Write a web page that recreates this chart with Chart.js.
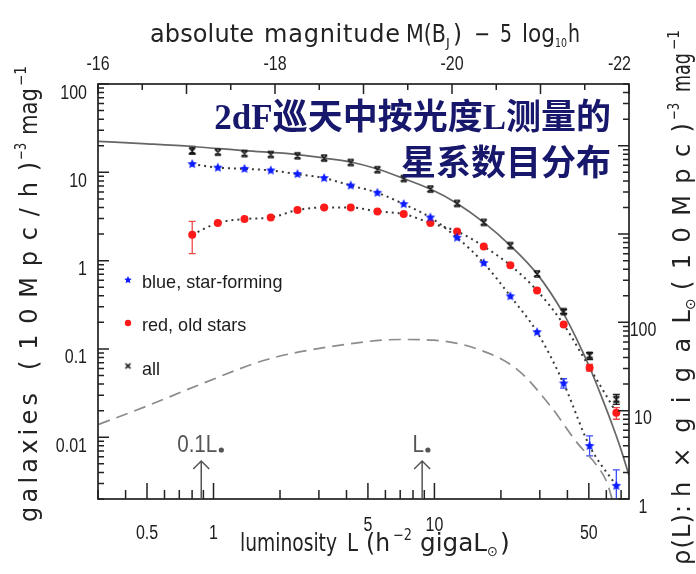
<!DOCTYPE html>
<html>
<head>
<meta charset="utf-8">
<script src="https://cdn.jsdelivr.net/npm/chart.js@4.4.1/dist/chart.umd.min.js"></script>
<style>
  html, body { margin: 0; padding: 0; background: #fff; }
  canvas { display: block; }
</style>
</head>
<body>
<canvas id="lf" width="696" height="574"></canvas>
<script>
// Luminosity bins, h^-2 gigaL_sun
const binL = [0.801, 1.046, 1.381, 1.816, 2.399, 3.169, 4.18, 5.52, 7.26, 9.59, 12.67, 16.72, 22.07, 29.15, 38.46, 50.4, 66.6];

// Number density per magnitude, (10Mpc/h)^-3 mag^-1
const bluePhi = [12.4, 11.3, 10.95, 10.5, 9.55, 8.6, 7.09, 5.87, 4.37, 3.08, 1.82, 0.94, 0.395, 0.155, 0.0407, 0.00797, 0.00282];
const redPhi  = [1.97, 2.67, 2.96, 3.08, 3.74, 4.0, 4.0, 3.61, 3.37, 2.67, 2.14, 1.45, 0.885, 0.458, 0.189, 0.0613, 0.0190];
const allPhi  = [17.5, 16.9, 16.3, 15.9, 15.4, 14.5, 12.9, 10.7, 8.51, 6.46, 4.44, 2.71, 1.48, 0.708, 0.265, 0.0845, 0.0269];

// Error bar ranges (null where the bar hides behind the marker)
const blueErrLo = [null, null, null, null, null, null, null, null, null, null, null, null, null, null, 0.036, 0.00615, 0.0018];
const blueErrHi = [null, null, null, null, null, null, null, null, null, null, null, null, null, null, 0.046, 0.01035, 0.00428];
const redErrLo  = [1.20, null, null, null, null, null, null, null, null, null, null, null, null, null, null, 0.056, 0.0160];
const redErrHi  = [2.78, null, null, null, null, null, null, null, null, null, null, null, null, null, null, 0.067, 0.0217];
const allErrLo  = [16.1, null, null, null, null, null, null, null, null, null, null, null, null, null, 0.252, 0.076, 0.0236];
const allErrHi  = [19.6, null, null, null, null, null, null, null, null, null, null, null, null, null, 0.279, 0.0906, 0.0306];

// Schechter fit to all galaxies
const fitL   = [0.302, 0.5, 0.8, 1.38, 2.40, 3.17, 4.18, 5.52, 7.26, 9.59, 12.67, 16.72, 22.07, 29.15, 38.46, 44, 50.4, 57, 64.8, 70, 76];
const fitPhi = [22.4, 21.0, 19.6, 17.6, 15.9, 14.5, 13.1, 10.9, 8.5, 6.46, 4.44, 2.71, 1.48, 0.708, 0.25, 0.13, 0.062, 0.029, 0.0125, 0.0072, 0.0037];

// Luminosity density, h x gigaL_sun (10Mpc)^-3 mag^-1 (right axis)
const rhoL   = [0.302, 0.50, 0.873, 1.75, 3.50, 7.02, 9.90, 15.06, 23.66, 33.5, 44.2, 54.5, 60.4, 64.5];
const rhoVal = [7.0, 11.3, 19.9, 38, 53.8, 64, 62.8, 51.5, 29.4, 11.3, 4.35, 2.37, 1.54, 0.9];

// Axis tick labels
const xTickLabels = [0.5, 1, 5, 10, 50];
const yTickLabels = [0.01, 0.1, 1, 10, 100];
const rightTickLabels = [1, 10, 100];
const magTickLabels = [-16, -18, -20, -22];

// Characteristic luminosity markers
const markerL = [0.88, 8.8];
const markerText = ['0.1L', 'L'];

const legendLabels = ['blue, star-forming', 'red, old stars', 'all'];
const titleLines = ['2dF巡天中按光度L测量的', '星系数目分布'];

const SANS = '"Liberation Sans", Arial, sans-serif';
const LABEL = '"DejaVu Sans", sans-serif';

// ---------- marker images ----------
function starImage(r, color) {
  const s = Math.ceil(r * 2 + 2);
  const c = document.createElement('canvas');
  c.width = s; c.height = s;
  const g = c.getContext('2d');
  g.fillStyle = color;
  g.beginPath();
  for (let i = 0; i < 10; i++) {
    const rad = i % 2 ? r * 0.48 : r;
    const a = -Math.PI / 2 + i * Math.PI / 5;
    const px = s / 2 + rad * Math.cos(a), py = s / 2 + rad * Math.sin(a);
    if (i) g.lineTo(px, py); else g.moveTo(px, py);
  }
  g.closePath();
  g.fill();
  return c;
}
function hourglassImage(r, color, caps) {
  const s = Math.ceil(r * 2 + 4);
  const c = document.createElement('canvas');
  c.width = s; c.height = s;
  const g = c.getContext('2d');
  g.strokeStyle = color;
  g.lineWidth = 1.7;
  const m = s / 2;
  g.beginPath();
  g.moveTo(m - r, m - r); g.lineTo(m + r, m + r);
  g.moveTo(m + r, m - r); g.lineTo(m - r, m + r);
  if (caps) {
    g.moveTo(m - r, m - r); g.lineTo(m + r, m - r);
    g.moveTo(m - r, m + r); g.lineTo(m + r, m + r);
  }
  g.stroke();
  return c;
}
const blueStar = starImage(5, '#0c1cff');
const legendStar = starImage(4, '#0c1cff');
const allMark = hourglassImage(3, '#151515', true);
const legendCross = hourglassImage(2.5, '#151515', false);

const pts = (xs, ys) => xs.map((v, i) => ({ x: v, y: ys[i] }));

// ---------- text helpers ----------
// Lays out label pieces between given start and end positions; vertical labels read upward.
function drawPieces(ctx, pieces, o) {
  ctx.save();
  ctx.translate(o.x, o.y);
  if (o.vertical) ctx.rotate(-Math.PI / 2);
  ctx.fillStyle = o.color;
  ctx.textBaseline = 'alphabetic';
  ctx.textAlign = 'left';
  for (const p of pieces) {
    const a = o.vertical ? -p.from : p.from;
    const b = o.vertical ? -p.to : p.to;
    const len = b - a;
    ctx.font = `${p.size || o.size}px ${o.family}`;
    ctx.letterSpacing = '0px';
    const w = ctx.measureText(p.text).width;
    ctx.save();
    ctx.translate(a, p.dy || 0);
    if (len > w && p.text.length > 1) {
      ctx.letterSpacing = ((len - w) / (p.text.length - 1)).toFixed(2) + 'px';
    } else if (len < w) {
      ctx.scale(len / w, 1);
    }
    ctx.fillText(p.text, 0, 0);
    ctx.restore();
  }
  ctx.letterSpacing = '0px';
  ctx.restore();
}
function narrowText(ctx, text, x, y, align, baseline, size, sx) {
  ctx.save();
  ctx.font = `${size}px ${SANS}`;
  ctx.textAlign = align;
  ctx.textBaseline = baseline;
  ctx.translate(x, y);
  ctx.scale(sx, 1);
  ctx.fillText(text, 0, 0);
  ctx.restore();
}
// Decade and sub-decade tick values between min and max
function logTicks(min, max) {
  const out = [];
  const e0 = Math.floor(Math.log10(min)), e1 = Math.ceil(Math.log10(max));
  for (let e = e0; e <= e1; e++) {
    for (let m = 1; m <= 9; m++) {
      const v = m * Math.pow(10, e);
      if (v >= min * 0.999 && v <= max * 1.001) out.push({ v: v, m: m });
    }
  }
  return out;
}

// ---------- plugins ----------
const errorBars = {
  id: 'errorBars',
  beforeDatasetsDraw(chart) {
    const { ctx, chartArea: a, scales: { x, y } } = chart;
    const sets = [
      { lo: blueErrLo, hi: blueErrHi, color: '#3a4cff' },
      { lo: redErrLo, hi: redErrHi, color: '#f04848' },
      { lo: allErrLo, hi: allErrHi, color: '#222' }
    ];
    ctx.save();
    ctx.beginPath();
    ctx.rect(a.left, a.top, a.width, a.height);
    ctx.clip();
    ctx.lineWidth = 1.3;
    for (const s of sets) {
      ctx.strokeStyle = s.color;
      s.lo.forEach((lo, i) => {
        if (lo == null) return;
        const px = x.getPixelForValue(binL[i]);
        const y1 = y.getPixelForValue(lo), y2 = y.getPixelForValue(s.hi[i]);
        ctx.beginPath();
        ctx.moveTo(px, y1); ctx.lineTo(px, y2);
        ctx.moveTo(px - 3.5, y1); ctx.lineTo(px + 3.5, y1);
        ctx.moveTo(px - 3.5, y2); ctx.lineTo(px + 3.5, y2);
        ctx.stroke();
      });
    }
    ctx.restore();
  }
};

const decorations = {
  id: 'decorations',
  afterDraw(chart) {
    const { ctx, chartArea: a, scales } = chart;
    const xs = scales.x, ys = scales.y, yr = scales.yR, xm = scales.xM;
    const L = a.left, R = a.right, T = a.top, B = a.bottom;
    ctx.save();

    // frame
    ctx.strokeStyle = '#222';
    ctx.lineWidth = 1.7;
    ctx.strokeRect(L, T, R - L, B - T);

    // inward ticks on all four sides
    ctx.strokeStyle = '#222';
    ctx.lineWidth = 1.5;
    ctx.beginPath();
    for (const t of logTicks(ys.min, ys.max)) {
      const py = ys.getPixelForValue(t.v);
      ctx.moveTo(L, py); ctx.lineTo(L + (t.m === 1 ? 11 : 6), py);
    }
    for (const t of logTicks(yr.min, yr.max)) {
      const py = yr.getPixelForValue(t.v);
      ctx.moveTo(R, py); ctx.lineTo(R - (t.m === 1 ? 11 : 6), py);
    }
    for (const t of logTicks(xs.min, xs.max)) {
      const px = xs.getPixelForValue(t.v);
      const long = t.m === 1 || t.m === 5;
      ctx.moveTo(px, B); ctx.lineTo(px, B - (long ? 16 : 9));
    }
    for (let m = -16; m >= -22; m -= 0.5) {
      const px = xm.getPixelForValue(m);
      ctx.moveTo(px, T); ctx.lineTo(px, T + (Number.isInteger(m) ? 10 : 6));
    }
    ctx.stroke();

    // tick labels
    ctx.fillStyle = '#1e1e1e';
    for (const v of yTickLabels) {
      narrowText(ctx, String(v), L - 11, ys.getPixelForValue(v) - 1, 'right', 'top', 20, 0.8);
    }
    for (const v of rightTickLabels) {
      narrowText(ctx, String(v), R + 14, yr.getPixelForValue(v) - 2, 'center', 'top', 20, 0.8);
    }
    for (const v of xTickLabels) {
      const raised = v === 5 || v === 10;
      narrowText(ctx, String(v), xs.getPixelForValue(v), raised ? 515 : 523, 'center', 'top', 20, 0.8);
    }
    for (const v of magTickLabels) {
      const last = v === -22;
      narrowText(ctx, String(v), xm.getPixelForValue(v) + (last ? 2 : 0), 70, last ? 'right' : 'center', 'alphabetic', 20, 0.8);
    }

    // axis titles
    drawPieces(ctx, [
      { text: 'absolute', from: 150, to: 254 },
      { text: 'magnitude', from: 264, to: 400 },
      { text: 'M(B', from: 406, to: 446 },
      { text: 'J', from: 446, to: 452, size: 13, dy: 5 },
      { text: ')', from: 453, to: 462 },
      { text: '−', from: 474, to: 490 },
      { text: '5', from: 500, to: 512 },
      { text: 'log', from: 522, to: 555 },
      { text: '10', from: 555, to: 567, size: 13, dy: 5 },
      { text: 'h', from: 568, to: 580 }
    ], { x: 0, y: 42, size: 24, family: LABEL, color: '#222' });

    drawPieces(ctx, [
      { text: 'luminosity', from: 240, to: 337 },
      { text: 'L', from: 347, to: 358 },
      { text: '(h', from: 366, to: 390 },
      { text: '−2', from: 393, to: 412, size: 15, dy: -11 },
      { text: 'gigaL', from: 420, to: 487 },
      { text: '⊙', from: 487, to: 498, size: 14, dy: 5 },
      { text: ')', from: 500, to: 510 }
    ], { x: 0, y: 551, size: 25, family: LABEL, color: '#222' });

    drawPieces(ctx, [
      { text: 'galaxies', from: 522, to: 393 },
      { text: '(10Mpc/h)', from: 370, to: 162 },
      { text: '−3', from: 160, to: 143, size: 15, dy: -11 },
      { text: 'mag', from: 135, to: 88 },
      { text: '−1', from: 86, to: 66, size: 15, dy: -11 }
    ], { x: 37, y: 0, vertical: true, size: 24, family: LABEL, color: '#222' });

    drawPieces(ctx, [
      { text: 'ρ(L):', from: 565, to: 505 },
      { text: 'h×gigaL', from: 497, to: 310 },
      { text: '⊙', from: 310, to: 298, size: 14, dy: 5 },
      { text: '(10Mpc)', from: 290, to: 123 },
      { text: '−3', from: 120, to: 103, size: 15, dy: -11 },
      { text: 'mag', from: 92, to: 53 },
      { text: '−1', from: 50, to: 30, size: 15, dy: -11 }
    ], { x: 690, y: 0, vertical: true, size: 24, family: LABEL, color: '#222' });

    // 0.1 L* and L* arrows
    ctx.strokeStyle = '#555';
    ctx.fillStyle = '#555';
    ctx.lineWidth = 1.5;
    markerL.forEach((v, i) => {
      const px = xs.getPixelForValue(v);
      ctx.beginPath();
      ctx.moveTo(px, B); ctx.lineTo(px, B - 38);
      ctx.moveTo(px - 8, B - 30); ctx.lineTo(px, B - 38); ctx.lineTo(px + 8, B - 30);
      ctx.stroke();
      ctx.save();
      ctx.font = `24px ${SANS}`;
      const w = ctx.measureText(markerText[i]).width * 0.86;
      ctx.restore();
      const x0 = px - (w + 8) / 2;
      narrowText(ctx, markerText[i], x0, 452, 'left', 'alphabetic', 24, 0.86);
      ctx.beginPath();
      ctx.arc(x0 + w + 4, 450, 2.6, 0, Math.PI * 2);
      ctx.fill();
    });

    // legend
    const rows = [283, 326, 370];
    ctx.drawImage(legendStar, 128 - legendStar.width / 2, rows[0] - 3 - legendStar.height / 2);
    ctx.fillStyle = '#ff1a1a';
    ctx.beginPath(); ctx.arc(128, rows[1] - 3, 3.2, 0, Math.PI * 2); ctx.fill();
    ctx.drawImage(legendCross, 128 - legendCross.width / 2, rows[2] - 4 - legendCross.height / 2);
    ctx.fillStyle = '#1c1c1c';
    legendLabels.forEach((t, i) => narrowText(ctx, t, 142, rows[i], 'left', 'middle', 19, 0.95));

    // title
    ctx.fillStyle = '#17176c';
    ctx.font = `bold 35px "Liberation Serif", "Noto Sans CJK SC", serif`;
    ctx.textAlign = 'right';
    ctx.textBaseline = 'alphabetic';
    ctx.fillText(titleLines[0], 611, 129);
    ctx.fillText(titleLines[1], 611, 175);

    ctx.restore();
  }
};

// ---------- chart ----------
new Chart(document.getElementById('lf'), {
  type: 'line',
  data: {
    datasets: [
      {
        label: legendLabels[2],
        data: pts(binL, allPhi),
        showLine: false,
        pointStyle: allMark,
        pointRadius: 5
      },
      {
        label: legendLabels[0],
        data: pts(binL, bluePhi),
        borderColor: '#3a3a3a',
        borderWidth: 2,
        borderDash: [2, 4],
        cubicInterpolationMode: 'monotone',
        pointStyle: blueStar,
        pointRadius: 5
      },
      {
        label: legendLabels[1],
        data: pts(binL, redPhi),
        borderColor: '#3a3a3a',
        borderWidth: 2,
        borderDash: [2, 4],
        cubicInterpolationMode: 'monotone',
        pointStyle: 'circle',
        pointRadius: 4,
        pointBackgroundColor: '#ff1a1a',
        pointBorderColor: '#ff1a1a',
        pointBorderWidth: 0
      },
      {
        label: 'fit',
        data: pts(fitL, fitPhi),
        borderColor: '#666',
        borderWidth: 1.7,
        cubicInterpolationMode: 'monotone',
        pointRadius: 0
      },
      {
        label: 'luminosity density',
        data: pts(rhoL, rhoVal),
        yAxisID: 'yR',
        borderColor: '#8c8c8c',
        borderWidth: 1.7,
        borderDash: [12, 7],
        cubicInterpolationMode: 'monotone',
        pointRadius: 0
      }
    ]
  },
  options: {
    responsive: false,
    animation: false,
    devicePixelRatio: 1,
    layout: { padding: { left: 98, right: 67, top: 84, bottom: 75 } },
    plugins: { legend: { display: false }, tooltip: { enabled: false } },
    scales: {
      x: { type: 'logarithmic', position: 'bottom', min: 0.302, max: 76, display: false },
      y: { type: 'logarithmic', position: 'left', min: 0.002, max: 100, display: false },
      yR: { type: 'logarithmic', position: 'right', min: 1, max: 50000, display: false },
      xM: { type: 'linear', position: 'top', min: -22, max: -16, reverse: true, display: false }
    }
  },
  plugins: [errorBars, decorations]
});
</script>
</body>
</html>
